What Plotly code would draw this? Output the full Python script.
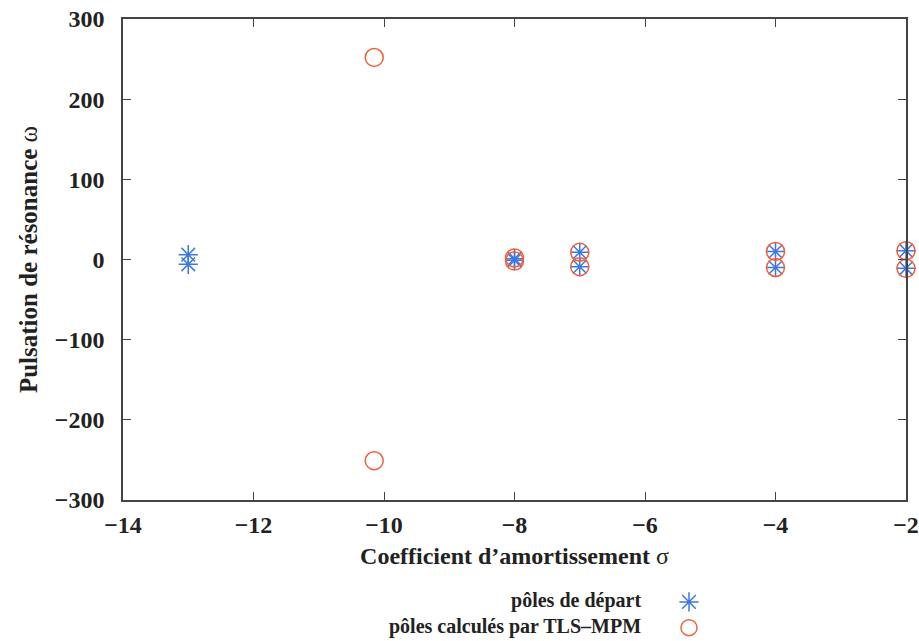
import plotly.graph_objects as go

# Data
start_sigma = [-13, -13, -8, -8, -7, -7, -4, -4, -2, -2]
start_omega = [6, -6, 1, -1, 9, -9, 10, -10, 11, -11]
calc_sigma = [-10.15, -10.15, -8, -8, -7, -7, -4, -4, -2, -2]
calc_omega = [252, -251, 2, -2, 9, -9, 10, -10, 11, -11]
legend_labels = ["pôles de départ", "pôles calculés par TLS\u2013MPM"]
x_ticks = [-14, -12, -10, -8, -6, -4, -2]
y_ticks = [-300, -200, -100, 0, 100, 200, 300]

def minus(v):
    return str(v).replace("-", "\u2212")

SERIF = "Liberation Serif"
BLUE = "#3c78e0"
RED = "#f0603c"
INK = "#222222"

W, H = 919, 641
L, R, T, B = 123, 906, 19, 500
PW, PH = R - L, B - T

fig = go.Figure()
fig.add_trace(go.Scatter(
    x=start_sigma, y=start_omega, mode="markers", name=" ", cliponaxis=False,
    marker=dict(symbol="asterisk-open", size=16, color=BLUE,
                line=dict(color=BLUE, width=1.5)),
))
fig.add_trace(go.Scatter(
    x=calc_sigma, y=calc_omega, mode="markers", name=" ", cliponaxis=False,
    marker=dict(symbol="circle-open", size=18, color=RED,
                line=dict(color=RED, width=1.5)),
))

axis_common = dict(
    showgrid=False, zeroline=False, showline=True, linecolor="#444444",
    linewidth=1.5, mirror="ticks", ticks="inside", ticklen=8,
    tickcolor="#444444", tickwidth=1, ticklabeloverflow="allow",
    tickfont=dict(family=SERIF, size=24, color=INK, weight="bold"),
)

fig.update_xaxes(
    range=[-14, -2], tickvals=x_ticks, ticktext=[minus(v) for v in x_ticks],
    ticklabelstandoff=2,
    title=dict(text="<b>Coefficient d\u2019amortissement</b> \u03c3",
               font=dict(family=SERIF, size=24, color=INK), standoff=11),
    **axis_common,
)
fig.update_yaxes(
    range=[-300, 300], tickvals=y_ticks, ticktext=[minus(v) for v in y_ticks],
    ticklabelstandoff=12,
    title=dict(text="<b>Pulsation de résonance</b> \u03c9",
               font=dict(family=SERIF, size=25, color=INK), standoff=10),
    **axis_common,
)

# legend text (right aligned, markers to the right)
fig.add_annotation(
    xref="paper", yref="paper", x=(643 - L) / PW, y=-(613 - B) / PH,
    xanchor="right", yanchor="middle", align="right", showarrow=False,
    text="<br>".join("<b>" + lab + "</b>" for lab in legend_labels),
    font=dict(family=SERIF, size=20, color=INK),
)

fig.update_layout(
    width=W, height=H,
    margin=dict(l=L, r=W - R, t=T, b=H - B, autoexpand=False),
    paper_bgcolor="white", plot_bgcolor="white",
    showlegend=True,
    legend=dict(x=(669 - L) / PW, y=-(584 - B) / PH,
                xanchor="left", yanchor="top",
                tracegroupgap=0, itemwidth=30, font=dict(family=SERIF, size=17.5),
                bgcolor="rgba(0,0,0,0)"),
)

fig.write_html("out.html", config={"displayModeBar": False},
               post_script="document.body.style.margin='0';document.body.style.padding='0';")
